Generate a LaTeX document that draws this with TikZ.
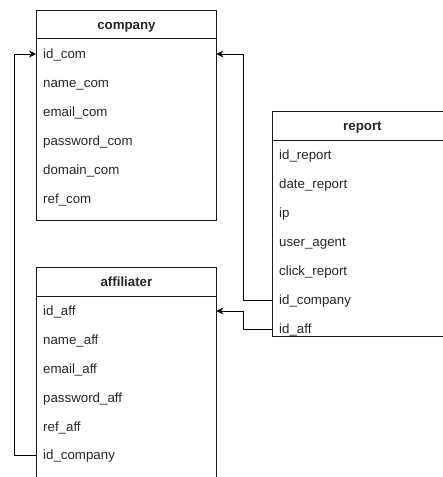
\documentclass[tikz,border=0pt]{standalone}
\usepackage{fontspec}
\setmainfont{Liberation Sans}
\usetikzlibrary{arrows.meta}
\definecolor{txt}{HTML}{262626}
\definecolor{edge}{HTML}{1A1A1A}
\tikzset{
  hdr/.style={draw=edge, line width=0.9pt, minimum width=180pt, minimum height=#1, inner sep=0pt, anchor=north west, font=\fontsize{13.3}{15}\selectfont\bfseries, text=txt, text height=9.5pt, text depth=0pt},
  body/.style={draw=edge, line width=0.9pt, minimum width=180pt, minimum height=#1, inner sep=0pt, anchor=north west},
  row/.style={minimum width=180pt, minimum height=29pt, inner xsep=7pt, inner ysep=0pt, text width=166pt, align=left, anchor=west, font=\fontsize{13.3}{15}\selectfont, text=txt, text height=9pt, text depth=0pt},
  conn/.style={draw=black, line width=0.9pt, -{Stealth[length=7pt,width=7pt]}}
}
\begin{document}
\begin{tikzpicture}[x=1pt,y=-1pt]
\useasboundingbox (0,0) rectangle (443,477);
\begin{scope}
\clip (0,0) rectangle (443,477);
% company
\node[hdr=28pt] (comph) at (36,10) {company};
\node[body=182pt] (compb) at (36,38) {};
\node[row] (idcom) at (36,54) {id\_com};
\node[row] (namecom) at (36,83) {name\_com};
\node[row] (emailcom) at (36,112) {email\_com};
\node[row] (passcom) at (36,141) {password\_com};
\node[row] (domcom) at (36,170) {domain\_com};
\node[row] (refcom) at (36,199) {ref\_com};
% report
\node[hdr=29pt] (reph) at (272,111) {report};
\node[body=196pt] (repb) at (272,140) {};
\node[row] (idrep) at (272,155) {id\_report};
\node[row] (daterep) at (272,184) {date\_report};
\node[row] (ip) at (272,213) {ip};
\node[row] (ua) at (272,242) {user\_agent};
\node[row] (click) at (272,271) {click\_report};
\node[row] (repidcomp) at (272,300) {id\_company};
\node[row] (repidaff) at (272,329) {id\_aff};
% affiliater
\node[hdr=29pt] (affh) at (36,267) {affiliater};
\node[body=240pt] (affb) at (36,296) {};
\node[row] (idaff) at (36,311) {id\_aff};
\node[row] (nameaff) at (36,340) {name\_aff};
\node[row] (emailaff) at (36,369) {email\_aff};
\node[row] (passaff) at (36,398) {password\_aff};
\node[row] (refaff) at (36,427) {ref\_aff};
\node[row] (affidcomp) at (36,455) {id\_company};
% connectors
\draw[conn] (affidcomp.west) -- ++(-22,0) |- (idcom.west);
\draw[conn] (repidcomp.west) -- ++(-28.5,0) |- (idcom.east);
\draw[conn] (repidaff.west) -- ++(-28.5,0) |- (idaff.east);
\end{scope}
\end{tikzpicture}
\end{document}
